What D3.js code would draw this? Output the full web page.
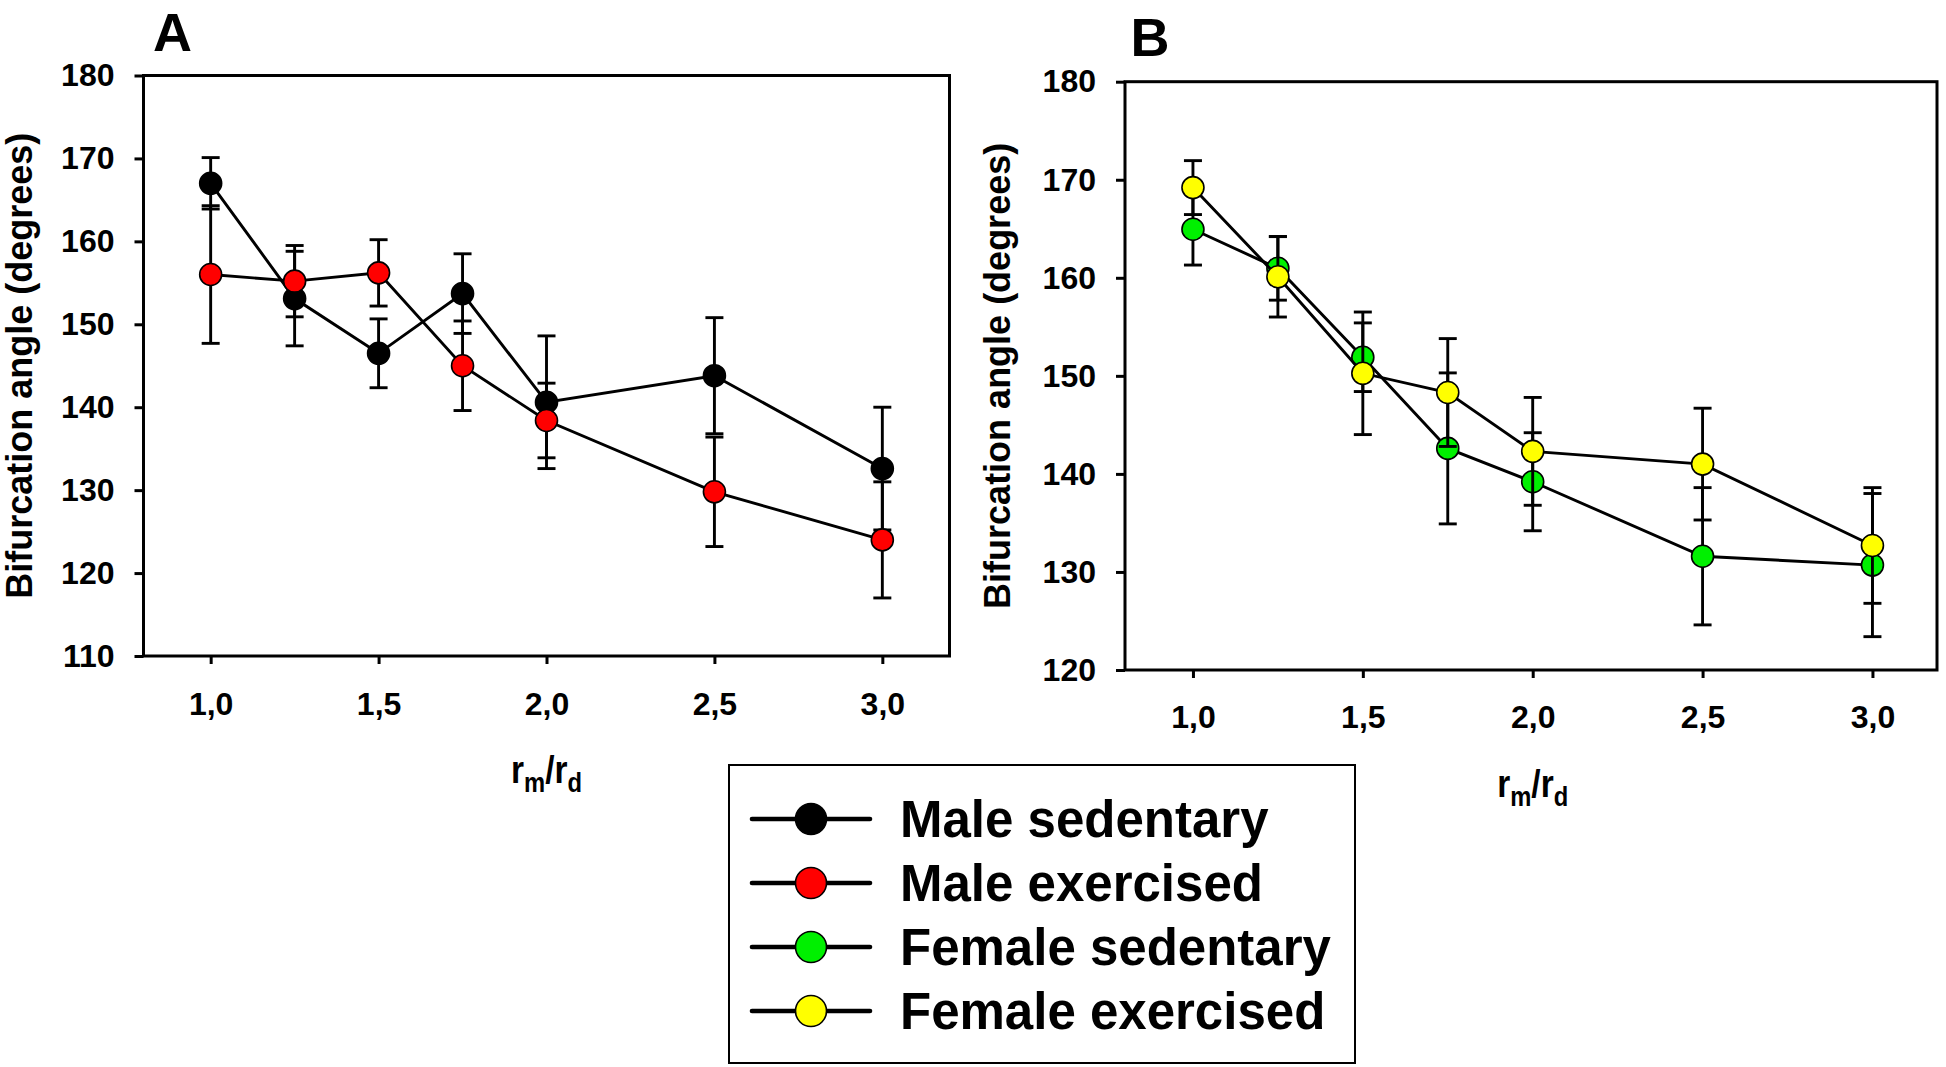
<!DOCTYPE html>
<html>
<head>
<meta charset="utf-8">
<script src="https://cdn.jsdelivr.net/npm/d3@7"></script>
<style>
  html, body { margin: 0; padding: 0; background: #fff; }
  svg { display: block; }
  text { font-family: "Liberation Sans", Arial, sans-serif; font-weight: bold; fill: #000; }
</style>
</head>
<body>
<svg id="chart" width="1946" height="1067"></svg>
<script>
// ---------------- DATA ----------------
const ratios = [1.0, 1.25, 1.5, 1.75, 2.0, 2.5, 3.0];
const xTickValues = [1.0, 1.5, 2.0, 2.5, 3.0];
const yTicksA = [110, 120, 130, 140, 150, 160, 170, 180];
const yTicksB = [120, 130, 140, 150, 160, 170, 180];

const maleSedentary      = [167.0, 153.1, 146.5, 153.7, 140.6, 143.8, 132.6];
const maleSedentaryErr   = [3.1, 5.7, 4.15, 4.8, 8.0, 7.0, 7.4];
const maleExercised      = [156.0, 155.2, 156.2, 145.0, 138.4, 129.8, 124.0];
const maleExercisedErr   = [8.3, 4.3, 4.0, 5.4, 4.5, 6.6, 7.0];
const femaleSedentary    = [164.95, 160.97, 151.9, 142.6, 139.2, 131.6, 130.7];
const femaleSedentaryErr = [3.65, 3.25, 3.5, 7.7, 5.0, 7.0, 7.3];
const femaleExercised    = [169.2, 160.1, 150.26, 148.3, 142.3, 141.0, 132.7];
const femaleExercisedErr = [2.75, 4.1, 6.25, 5.5, 5.5, 5.7, 5.9];

const legendLabels = ["Male sedentary", "Male exercised", "Female sedentary", "Female exercised"];
const seriesColors = ["#000000", "#ff0000", "#00f000", "#ffff00"];

// ---------------- DRAW ----------------
const svg = d3.select("#chart");
const fmt = d => d3.format(".1f")(d).replace(".", ",");

function panel(cfg) {
  const x = d3.scaleLinear().domain(cfg.xDomain).range(cfg.xRange);
  const y = d3.scaleLinear().domain(cfg.yDomain).range(cfg.yRange);
  const g = svg.append("g");

  // frame
  g.append("rect")
    .attr("x", cfg.xRange[0]).attr("y", cfg.yRange[1])
    .attr("width", cfg.xRange[1] - cfg.xRange[0])
    .attr("height", cfg.yRange[0] - cfg.yRange[1])
    .attr("fill", "none").attr("stroke", "#000").attr("stroke-width", 3);

  // y axis
  const ya = g.append("g").attr("transform", `translate(${cfg.xRange[0]},0)`)
    .call(d3.axisLeft(y).tickValues(cfg.yTicks).tickSize(9).tickPadding(20).tickFormat(d3.format("d")));
  ya.select(".domain").remove();
  ya.selectAll("line").attr("stroke-width", 3);
  ya.selectAll("text").style("font-size", "32px").style("font-family", '"Liberation Sans", Arial, sans-serif').style("font-weight", "bold");

  // x axis
  const xa = g.append("g").attr("transform", `translate(0,${cfg.yRange[0]})`)
    .call(d3.axisBottom(x).tickValues(xTickValues).tickSize(8).tickPadding(cfg.xPad).tickFormat(fmt));
  xa.select(".domain").remove();
  xa.selectAll("line").attr("stroke-width", 3);
  xa.selectAll("text").style("font-size", "32px").style("font-family", '"Liberation Sans", Arial, sans-serif').style("font-weight", "bold");

  // y title
  g.append("text")
    .attr("transform", `translate(${cfg.yTitleX},${(cfg.yRange[0] + cfg.yRange[1]) / 2}) rotate(-90)`)
    .attr("text-anchor", "middle")
    .style("font-size", "36px")
    .text("Bifurcation angle (degrees)");

  // x title r_m/r_d
  const xt = g.append("text")
    .attr("transform", `translate(${x(2.0)},${cfg.yRange[0] + 127}) scale(0.88,1)`)
    .attr("text-anchor", "middle");
  xt.append("tspan").style("font-size", "38px").text("r");
  xt.append("tspan").style("font-size", "27px").attr("dy", 9).text("m");
  xt.append("tspan").style("font-size", "38px").attr("dy", -9).text("/");
  xt.append("tspan").style("font-size", "38px").text("r");
  xt.append("tspan").style("font-size", "27px").attr("dy", 9).text("d");

  // panel letter
  g.append("text")
    .attr("x", cfg.letterX).attr("y", cfg.letterY)
    .attr("text-anchor", "middle")
    .style("font-size", "54px")
    .text(cfg.letter);

  // series
  cfg.series.forEach(s => {
    const data = ratios.map((r, i) => ({ r, v: s.values[i], e: s.err[i] }));
    const eb = g.append("g");
    data.forEach(d => {
      const cx = x(d.r);
      eb.append("line").attr("x1", cx).attr("x2", cx)
        .attr("y1", y(d.v + d.e)).attr("y2", y(d.v - d.e))
        .attr("stroke", "#000").attr("stroke-width", 2.9);
      [d.v + d.e, d.v - d.e].forEach(val => {
        eb.append("line").attr("x1", cx - 9).attr("x2", cx + 9)
          .attr("y1", y(val)).attr("y2", y(val))
          .attr("stroke", "#000").attr("stroke-width", 2.9);
      });
    });
    g.append("path").datum(data)
      .attr("d", d3.line().x(d => x(d.r)).y(d => y(d.v)))
      .attr("fill", "none").attr("stroke", "#000").attr("stroke-width", 2.9);
    g.selectAll(null).data(data).enter().append("circle")
      .attr("cx", d => x(d.r)).attr("cy", d => y(d.v)).attr("r", 11)
      .attr("fill", s.color).attr("stroke", "#000").attr("stroke-width", 1.6);
  });
}

panel({
  xDomain: [0.8, 3.2], xRange: [143.5, 949.5],
  yDomain: [110, 180], yRange: [656, 75.5],
  yTicks: yTicksA, xPad: 28, yTitleX: 32,
  letter: "A", letterX: 172.5, letterY: 51,
  series: [
    { values: maleSedentary, err: maleSedentaryErr, color: seriesColors[0] },
    { values: maleExercised, err: maleExercisedErr, color: seriesColors[1] }
  ]
});

panel({
  xDomain: [0.8, 3.19], xRange: [1125, 1937],
  yDomain: [120, 180], yRange: [670, 81.7],
  yTicks: yTicksB, xPad: 27, yTitleX: 1010,
  letter: "B", letterX: 1150, letterY: 56,
  series: [
    { values: femaleSedentary, err: femaleSedentaryErr, color: seriesColors[2] },
    { values: femaleExercised, err: femaleExercisedErr, color: seriesColors[3] }
  ]
});

// legend
const lg = svg.append("g");
lg.append("rect").attr("x", 729).attr("y", 765).attr("width", 626).attr("height", 298)
  .attr("fill", "#fff").attr("stroke", "#000").attr("stroke-width", 2);
const rowY = d3.scalePoint().domain(legendLabels).range([819, 1011]);
legendLabels.forEach((lab, i) => {
  const yy = rowY(lab);
  lg.append("line").attr("x1", 752).attr("x2", 870).attr("y1", yy).attr("y2", yy)
    .attr("stroke", "#000").attr("stroke-width", 4.6).attr("stroke-linecap", "round");
  lg.append("circle").attr("cx", 811).attr("cy", yy).attr("r", 15.5)
    .attr("fill", seriesColors[i]).attr("stroke", "#000").attr("stroke-width", 1.6);
  lg.append("text").attr("x", 900).attr("y", yy + 18).style("font-size", "51px").text(lab);
});
</script>
</body>
</html>
